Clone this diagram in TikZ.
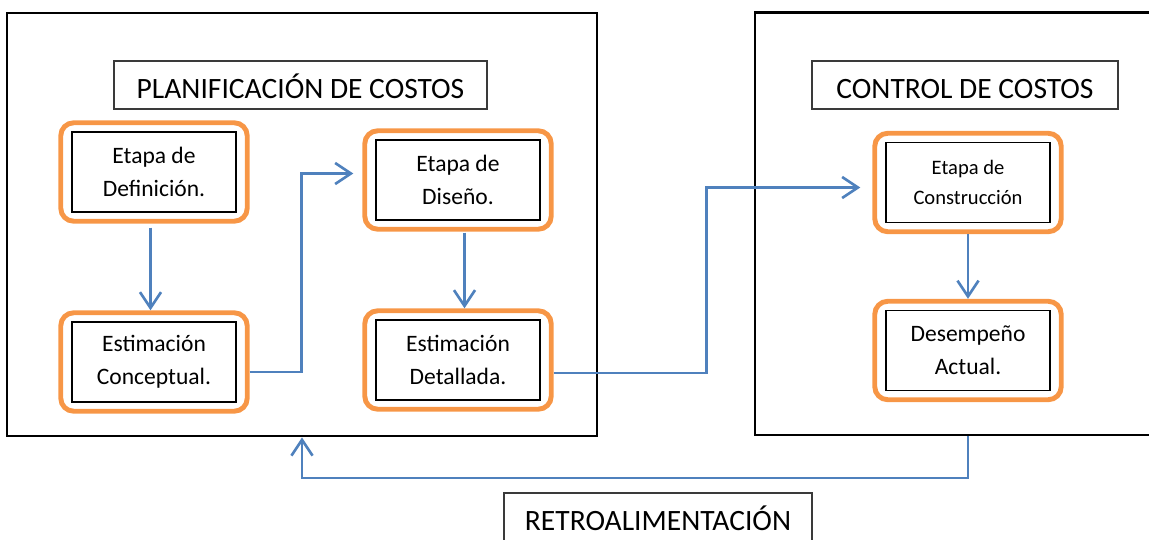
\documentclass[tikz,border=0pt]{standalone}
\usepackage{fontspec}
\setmainfont{Carlito}
\usepackage{xcolor}
\usetikzlibrary{arrows.meta,positioning,fit}
\definecolor{ringorange}{HTML}{F79646}
\definecolor{flowblue}{HTML}{4F81BD}
\definecolor{titlegray}{HTML}{3A3A3A}

\begin{document}
\begin{tikzpicture}[x=0.02cm, y=-0.02cm,
  area/.style={draw, line width=1.2pt, inner sep=0pt},
  title/.style={draw=titlegray, line width=0.8pt, inner xsep=0pt, inner ysep=0pt,
    text height=0.76cm, text depth=0.2cm, font=\fontsize{16.8}{20}\selectfont},
  stage/.style={draw, line width=0.85pt, minimum width=3.28cm, minimum height=1.6cm,
    inner sep=2pt, align=center, font=\fontsize{13.4}{18.8}\selectfont},
  ring/.style={draw=ringorange, line width=2.8pt, rounded corners=0.26cm,
    inner xsep=0.21cm, inner ysep=0.17cm},
  flow/.style={draw=flowblue, line width=1.5pt, -{Straight Barb[length=9pt,width=12pt]}}
]
\useasboundingbox (0,0) rectangle (1149,540);

\node[area, minimum width=11.8cm, minimum height=8.47cm] (planarea) at (302,224.7) {};
\node[area, minimum width=8.2cm, minimum height=8.45cm] (ctrlarea) at (960,223.75) {};

\node[title, minimum width=7.46cm] (plantitle) at (300.5,85) {PLANIFICACIÓN DE COSTOS};
\node[title, minimum width=6.12cm] (ctrltitle) at (965,85) {CONTROL DE COSTOS};
\node[title, minimum width=6.16cm] (retrotitle) at (658,517) {RETROALIMENTACIÓN};

\node[stage] (def) at (154,172) {Etapa de\\Definición.};
\node[stage] (con) at (154,362) {Estimación\\Conceptual.};
\node[stage] (dis) at (458,180) {Etapa de\\Diseño.};
\node[stage] (det) at (458,360) {Estimación\\Detallada.};
\node[stage, font=\fontsize{11.7}{17}\selectfont] (cons) at (968,182.5) {Etapa de\\Construcción};
\node[stage] (des) at (968,350.5) {Desempeño\\Actual.};

\foreach \s in {def,con,dis,det,cons,des}
  \node[ring, fit=(\s)] (ring\s) {};

\draw[flow, shorten <=0.08cm] ([xshift=-0.07cm]ringdef.south) -- ([xshift=-0.07cm]ringcon.north);
\draw[flow] ([yshift=-0.2cm]ringcon.east) -- ++(1.04cm,0) |- ([yshift=0.13cm,xshift=-0.18cm]ringdis.west);
\draw[flow, shorten <=0.02cm] ([xshift=0.13cm]ringdis.south) -- ([xshift=0.13cm]ringdet.north);
\draw[flow] ([yshift=-0.26cm]ringdet.east) -- ++(3.06cm,0) |- ([yshift=-0.1cm,xshift=-0.24cm]ringcons.west);
\draw[flow] (ringcons.south) -- (ringdes.north);
\draw[flow] (ringdes |- ctrlarea.south) -- ++(0,-0.84cm) -| (planarea.south);
\end{tikzpicture}
\end{document}
